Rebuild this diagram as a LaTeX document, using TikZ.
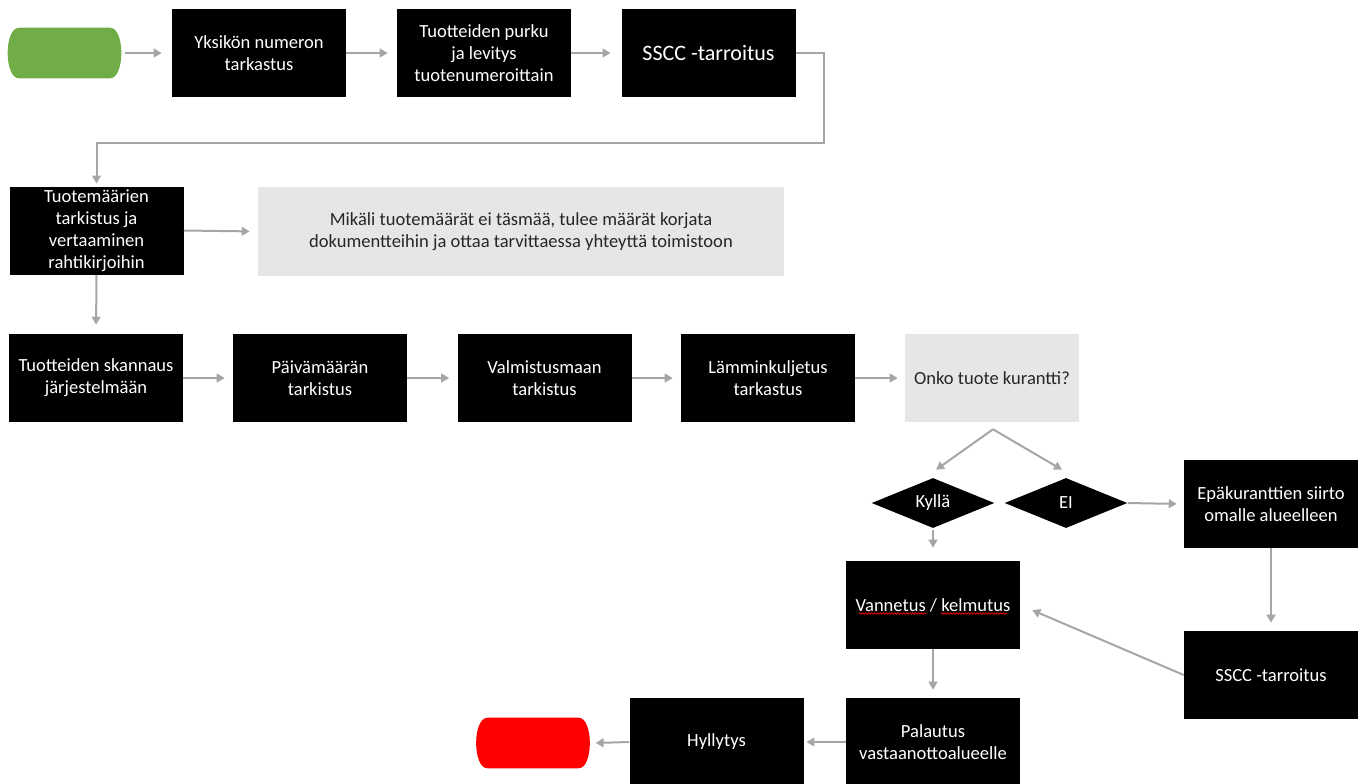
\documentclass[tikz,border=0pt]{standalone}
\usepackage{fontspec}
\setmainfont{Carlito}
\usetikzlibrary{shapes.geometric,arrows.meta,decorations.pathmorphing}

\definecolor{startgreen}{HTML}{70AD47}
\definecolor{stopred}{HTML}{FF0000}
\definecolor{notegray}{HTML}{E7E6E6}
\definecolor{notetext}{HTML}{262626}
\definecolor{arrowgray}{HTML}{A6A6A6}

% terminator: flat top and bottom, bulging ends
\newcommand\terminator[2]{%
  \fill[#2] ([xshift=11.25pt]#1.north west) -- ([xshift=-11.25pt]#1.north east)
    .. controls (#1.north east) and (#1.south east) .. ([xshift=-11.25pt]#1.south east)
    -- ([xshift=11.25pt]#1.south west)
    .. controls (#1.south west) and (#1.north west) .. cycle;}

\begin{document}
\begin{tikzpicture}[x=0.75pt,y=-0.75pt,
  every node/.style={font=\fontsize{13.9pt}{16.5pt}\selectfont, align=center},
  box/.style={fill=black, text=white, minimum width=130.5pt, minimum height=66pt, inner sep=2pt},
  note/.style={fill=notegray, text=notetext, inner sep=2pt},
  pill/.style={minimum width=90.5pt, minimum height=37.5pt, inner sep=0pt},
  choice/.style={diamond, fill=black, text=white, aspect=2.4, minimum width=92pt, minimum height=37.5pt, inner sep=0pt},
  flow/.style={draw=arrowgray, line width=1.5pt, -{Triangle[length=6pt,width=6.5pt]}},
  proofmark/.style={draw=red, line width=0.5pt, decorate, decoration={snake, segment length=2.2pt, amplitude=0.6pt}}
]
\useasboundingbox (0,0) rectangle (1366,783);

% first row
\node[pill] (start) at (64.5,53) {};
\terminator{start}{startgreen}
\node[box] (unit) at (259,53) {Yksikön numeron\\tarkastus};
\node[box] (unpack) at (484,53) {Tuotteiden purku\\ja levitys\\tuotenumeroittain};
\node[box, font=\fontsize{16.5pt}{19pt}\selectfont] (label1) at (708.5,53) {SSCC -tarroitus};

% quantity check
\node[box] (qty) at (96.5,230.5) {Tuotemäärien\\tarkistus ja\\vertaaminen\\rahtikirjoihin};
\node[note, minimum width=394.5pt, minimum height=66.75pt] (fix) at (521,231.5)
  {Mikäli tuotemäärät ei täsmää, tulee määrät korjata\\dokumentteihin ja ottaa tarvittaessa yhteyttä toimistoon};

% third row
\node[box] (scan) at (96,378) {Tuotteiden skannaus\\järjestelmään};
\node[box] (date) at (320,378) {Päivämäärän\\tarkistus};
\node[box] (origin) at (544.5,378) {Valmistusmaan\\tarkistus};
\node[box] (temp) at (768,378) {Lämminkuljetus\\tarkastus};
\node[note, minimum width=130.5pt, minimum height=66pt] (q) at (992,378) {Onko tuote kurantti?};

% decision
\node[choice] (yes) at (933,503) {Kyllä};
\node[choice] (no) at (1066,503) {EI};
\node[box] (move) at (1271,504) {Epäkuranttien siirto\\omalle alueelleen};
\node[box] (wrap) at (933,605) {Vannetus / kelmutus};
\node[box] (label2) at (1271,675) {SSCC -tarroitus};
\node[box] (ret) at (933,742) {Palautus\\vastaanottoalueelle};
\node[box] (shelf) at (716.5,742) {Hyllytys};
\node[pill] (stop) at (533,743) {};
\terminator{stop}{stopred}

% red proofing marks under the two words
\draw[proofmark] ([shift={(-74,8.5)}]wrap.center) -- ([shift={(-7,8.5)}]wrap.center);
\draw[proofmark] ([shift={(8,8.5)}]wrap.center) -- ([shift={(74,8.5)}]wrap.center);

% connectors
\draw[flow, shorten >=7.5pt] (start) -- (unit);
\draw[flow, shorten >=6.75pt] (unit) -- (unpack);
\draw[flow, shorten >=8pt] (unpack) -- (label1);
\draw[flow, shorten >=2pt] (label1.east) -- ++(28,0) -- ++(0,90) -| (qty.north);
\draw[flow, shorten >=6pt] (qty.east) -- (fix.west);
\draw[flow, shorten >=6.75pt] (qty.south) -- (scan.north);
\draw[flow, shorten >=6pt] (scan) -- (date);
\draw[flow, shorten >=6pt] (date) -- (origin);
\draw[flow, shorten >=6pt] (origin) -- (temp);
\draw[flow, shorten >=5.25pt] (temp) -- (q);
\draw[flow] ([shift={(1,7)}]q.south) -- ([shift={(3,-8)}]yes.north);
\draw[flow] ([shift={(1,7)}]q.south) -- ([shift={(-4,-8)}]no.north);
\draw[flow, shorten >=5.25pt] (no.east) -- (move.west);
\draw[flow, shorten <=1.5pt, shorten >=9.75pt] (yes.south) -- (wrap.north);
\draw[flow, shorten >=6pt] (move.south) -- (label2.north);
\draw[flow, shorten >=9.75pt] (label2.west) -- (wrap.east);
\draw[flow, shorten >=6pt] (wrap.south) -- (ret.north);
\draw[flow, shorten >=2pt] (ret.west) -- (shelf.east);
\draw[flow, shorten >=1.5pt] (shelf.west) -- (stop.east);
\end{tikzpicture}
\end{document}
